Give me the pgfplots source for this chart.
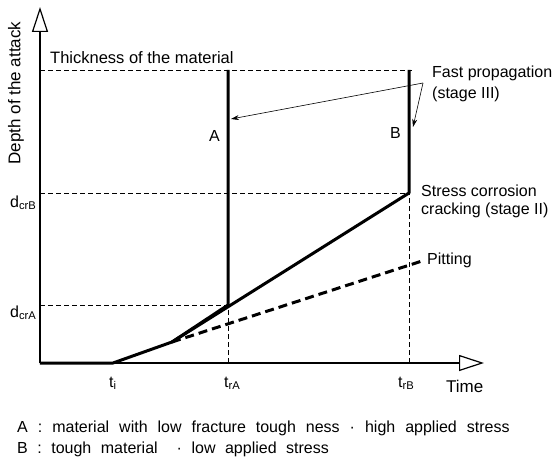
\documentclass[border=0pt]{standalone}
\usepackage{fontspec}
\setmainfont{Liberation Sans}
\usepackage{pgfplots}
\pgfplotsset{compat=1.18}
\usetikzlibrary{arrows.meta}
\begin{document}
\begin{tikzpicture}[
  lab/.style={font=\fontsize{16}{19}\selectfont, inner sep=0pt, text=black},
  bold/.style={black, line width=3pt, line join=round},
  thindash/.style={black, line width=0.9pt, dash pattern=on 5pt off 3pt},
  ptr/.style={black, line width=0.6pt, -{Stealth[length=8pt, width=5pt]}}
]
\begin{axis}[
  x=1pt, y=1pt,
  xmin=40, xmax=484, ymin=0, ymax=356,
  axis lines=left,
  axis line style={line width=1.3pt, black, -{Triangle[open, length=25pt, width=16pt, line width=1.2pt]}},
  xtick=\empty, ytick=\empty,
  clip=false,
]
% bounding box of the whole figure
\path (axis cs:0,-98) rectangle (axis cs:553,363);

% reference dashed lines
\addplot[thindash] coordinates {(40,293) (412,293)};
\addplot[thindash] coordinates {(40,170) (409,170)};
\addplot[thindash] coordinates {(40,58) (228,58)};
\addplot[thindash] coordinates {(228,0) (228,58)};
\addplot[thindash] coordinates {(409,0) (409,170)};

% pitting
\addplot[black, line width=3pt, dash pattern=on 9pt off 5pt] coordinates {(172,21) (422,102)};

% curves
\addplot[bold] coordinates {(40,0) (113,0) (172,21) (228,58) (228,293)};
\addplot[bold] coordinates {(172,21) (409,170) (409,293)};

% pointer arrows
\addplot[ptr] coordinates {(423,280) (231,244)};
\addplot[ptr] coordinates {(423,280) (413,236)};

% labels
\node[lab, font=\fontsize{17}{20}\selectfont, rotate=90] at (axis cs:16,270) {Depth of the attack};
\node[lab, font=\fontsize{16.5}{20}\selectfont, anchor=base west] at (axis cs:50,299) {Thickness of the material};
\node[lab, anchor=base] at (axis cs:214.5,222) {A};
\node[lab, anchor=base] at (axis cs:395.5,225) {B};
\node[lab, anchor=base west] at (axis cs:432,285) {Fast propagation};
\node[lab, anchor=base west] at (axis cs:432,265) {(stage III)};
\node[lab, anchor=base west] at (axis cs:421,167) {Stress corrosion};
\node[lab, anchor=base west] at (axis cs:421,149) {cracking (stage II)};
\node[lab, anchor=base west] at (axis cs:427,99) {Pitting};
\node[lab, anchor=base west] at (axis cs:10,156) {d\textsubscript{crB}};
\node[lab, anchor=base west] at (axis cs:10,46) {d\textsubscript{crA}};
\node[lab, anchor=base west] at (axis cs:109,-24) {t\textsubscript{i}};
\node[lab, anchor=base west] at (axis cs:224,-24) {t\textsubscript{rA}};
\node[lab, anchor=base west] at (axis cs:398,-24) {t\textsubscript{rB}};
\node[lab, font=\fontsize{17}{20}\selectfont, anchor=base west] at (axis cs:446,-29) {Time};
\node[lab, anchor=base west] at (axis cs:17,-69) {\spaceskip=10pt A : material with low fracture tough ness · high applied stress};
\node[lab, anchor=base west] at (axis cs:17,-90) {\spaceskip=9.5pt B : tough material \ · low applied stress};
\end{axis}
\end{tikzpicture}
\end{document}
